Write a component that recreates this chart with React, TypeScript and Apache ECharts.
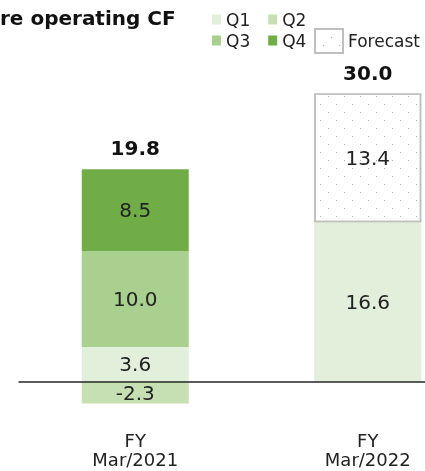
import React, { useEffect, useRef } from 'react';
import * as echarts from 'echarts';

const categories = ['FY\nMar/2021', 'FY\nMar/2022'];
const q1: (number | null)[] = [3.6, 16.6];
const q2: (number | null)[] = [-2.3, null];
const q3: (number | null)[] = [10.0, null];
const q4: (number | null)[] = [8.5, null];
const forecast: (number | null)[] = [null, 13.4];
const titleText = 're operating CF';

const FONT = 'DejaVu Sans';
const TEXT = '#222';

export default function App() {
  const ref = useRef<HTMLDivElement>(null);
  useEffect(() => {
    const chart = echarts.init(ref.current!, null, { renderer: 'svg' });
    const parts = [q1, q2, q3, q4, forecast];
    const positive = categories.map((_, i) =>
      parts.reduce((s, a) => s + (a[i] != null && (a[i] as number) > 0 ? (a[i] as number) : 0), 0)
    );
    const net = categories.map((_, i) => parts.reduce((s, a) => s + (a[i] ?? 0), 0));

    const innerLabel = {
      show: true,
      position: 'inside',
      fontSize: 20,
      fontFamily: FONT,
      color: TEXT,
      formatter: (p: any) => (p.value == null ? '' : Number(p.value).toFixed(1)),
    };
    const mk = (name: string, data: (number | null)[], itemStyle: any) => ({
      name,
      type: 'bar',
      stack: 'cf',
      stackStrategy: 'samesign',
      barWidth: 107,
      barGap: '-100%',
      data,
      itemStyle,
      label: innerLabel,
      emphasis: { disabled: true },
    });

    const legendText = { fontSize: 17, fontFamily: FONT, color: TEXT };

    chart.setOption({
      animation: false,
      textStyle: { fontFamily: FONT },
      title: {
        text: titleText,
        left: 0,
        top: 8,
        padding: 0,
        textStyle: { fontSize: 20, fontWeight: 'bold', fontFamily: FONT, color: '#111' },
      },
      legend: [
        {
          data: ['Q1', 'Q2'],
          left: 212,
          top: 11,
          padding: 0,
          itemWidth: 9,
          itemHeight: 10,
          itemGap: 18,
          icon: 'rect',
          textStyle: legendText,
          selectedMode: false,
        },
        {
          data: ['Q3', 'Q4'],
          left: 212,
          top: 32,
          padding: 0,
          itemWidth: 9,
          itemHeight: 10,
          itemGap: 18,
          icon: 'rect',
          textStyle: legendText,
          selectedMode: false,
        },
        {
          data: ['Forecast'],
          left: 314,
          top: 28,
          padding: 0,
          itemWidth: 28,
          itemHeight: 24,
          icon: 'rect',
          textStyle: legendText,
          selectedMode: false,
        },
      ],
      grid: {
        left: 19,
        right: -59,
        top: 45.5,
        bottom: 41.5,
        containLabel: false,
        outerBoundsMode: 'none',
      },
      xAxis: {
        type: 'category',
        data: categories,
        z: 10,
        axisLine: { onZero: true, lineStyle: { color: '#262626', width: 1.5 } },
        axisTick: { show: false },
        axisLabel: { fontSize: 18, lineHeight: 19, margin: 1, color: TEXT, fontFamily: FONT },
      },
      yAxis: { type: 'value', min: -5, max: 35, show: false },
      series: [
        mk('Q1', q1, { color: '#e2efda' }),
        mk('Q2', q2, { color: '#c6e0b4' }),
        mk('Q3', q3, { color: '#a9d08e' }),
        mk('Q4', q4, { color: '#70ad47' }),
        mk('Forecast', forecast, {
          color: '#ffffff',
          borderColor: '#bfbfbf',
          borderWidth: 1.5,
          decal: {
            symbol: 'rect',
            symbolSize: 1,
            color: '#b0b0b0',
            dashArrayX: [[1, 15], [0, 8, 1, 7]],
            dashArrayY: [1, 7],
            rotation: 0,
          },
        }),
        {
          name: 'Total',
          type: 'bar',
          barWidth: 107,
          barGap: '-100%',
          data: positive,
          itemStyle: { color: 'rgba(0,0,0,0)' },
          silent: true,
          z: 1,
          label: {
            show: true,
            position: 'top',
            distance: 11,
            fontSize: 20,
            fontWeight: 'bold',
            fontFamily: FONT,
            color: '#111',
            formatter: (p: any) => net[p.dataIndex].toFixed(1),
          },
        },
      ],
    });
    return () => chart.dispose();
  }, []);
  return <div ref={ref} style={{ position: 'fixed', left: 0, top: 0, width: 425, height: 471 }} />;
}
